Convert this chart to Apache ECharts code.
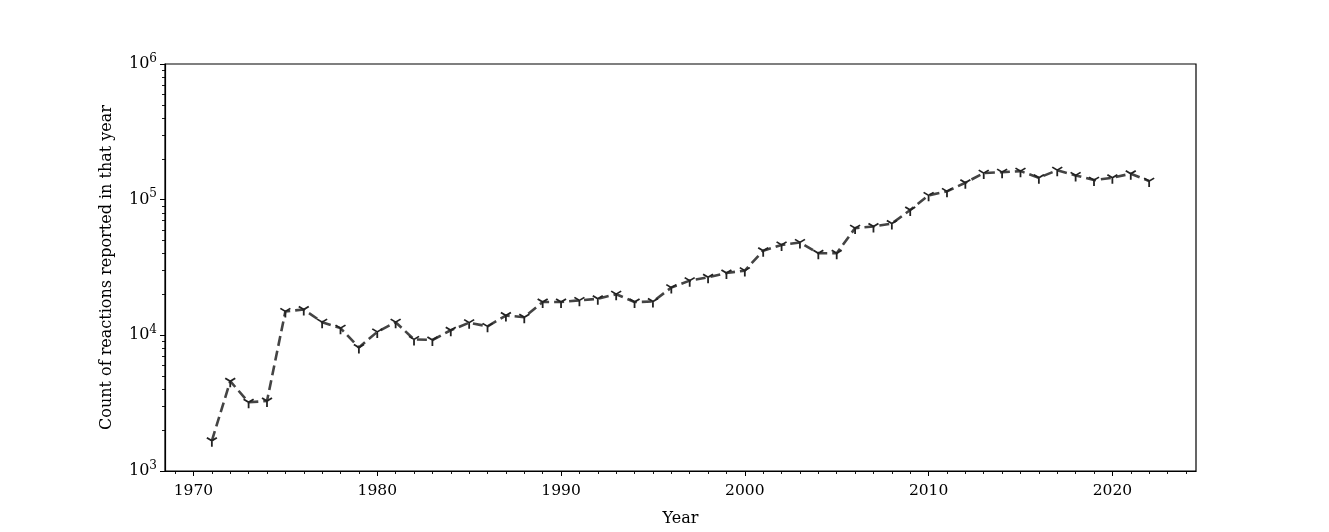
<!DOCTYPE html>
<html>
<head>
<meta charset="utf-8">
<script src="https://cdn.jsdelivr.net/npm/echarts@6/dist/echarts.min.js"></script>
<style>html,body{margin:0;padding:0;background:#fff;}#c{width:1329px;height:532px;}</style>
</head>
<body>
<div id="c"></div>
<script>
const years = [1971,1972,1973,1974,1975,1976,1977,1978,1979,1980,1981,1982,1983,1984,1985,1986,1987,1988,1989,1990,1991,1992,1993,1994,1995,1996,1997,1998,1999,2000,2001,2002,2003,2004,2005,2006,2007,2008,2009,2010,2011,2012,2013,2014,2015,2016,2017,2018,2019,2020,2021,2022];
const counts = [1670,4590,3210,3280,15000,15500,12500,11300,8130,10600,12500,9330,9240,10900,12400,11650,14000,13600,17600,17600,18100,18600,20100,17600,17750,22500,25300,26800,28800,30000,42000,46400,48400,40300,40300,61700,63400,66700,83900,107600,115200,133300,157000,159500,162300,145100,164900,151000,139400,145100,155300,137100];
const xMajorTicks = [1970,1980,1990,2000,2010,2020];
const xMinorTicks = [1969,1970,1971,1972,1973,1974,1975,1976,1977,1978,1979,1980,1981,1982,1983,1984,1985,1986,1987,1988,1989,1990,1991,1992,1993,1994,1995,1996,1997,1998,1999,2000,2001,2002,2003,2004,2005,2006,2007,2008,2009,2010,2011,2012,2013,2014,2015,2016,2017,2018,2019,2020,2021,2022,2023,2024];
const yMajorTicks = [1000,10000,100000,1000000];
const yMinorTicks = [2000,3000,4000,5000,6000,7000,8000,9000,20000,30000,40000,50000,60000,70000,80000,90000,200000,300000,400000,500000,600000,700000,800000,900000];
const xName = 'Year';
const yName = 'Count of reactions reported in that year';

const FONT = 'DejaVu Serif';
const chart = echarts.init(document.getElementById('c'), null, {renderer:'canvas'});
const xMin = 1968.45, xMax = 2024.55;
chart.setOption({
  animation:false,
  backgroundColor:'#fff',
  grid:{left:165,right:133,top:64,bottom:59,show:true,borderColor:'#000',borderWidth:1.2,backgroundColor:'transparent'},
  xAxis:[{
    type:'value',min:xMin,max:xMax,position:'bottom',
    name:xName,nameLocation:'middle',nameGap:40,
    nameTextStyle:{fontFamily:FONT,fontSize:16,color:'#000'},
    axisLine:{show:true,onZero:false,lineStyle:{color:'#000',width:1.2}},
    axisTick:{show:true,length:5,lineStyle:{color:'#000',width:1},customValues:xMajorTicks},
    axisLabel:{fontFamily:FONT,fontSize:15.5,color:'#000',margin:12,customValues:xMajorTicks,
      formatter:function(v){return String(Math.round(v));}},
    splitLine:{show:false}
  },{
    type:'value',min:xMin,max:xMax,position:'bottom',gridIndex:0,
    axisLine:{show:false},
    axisTick:{show:true,length:3,lineStyle:{color:'#000',width:0.9},customValues:xMinorTicks},
    axisLabel:{show:false},splitLine:{show:false}
  }],
  yAxis:[{
    type:'log',logBase:10,min:1000,max:1000000,position:'left',
    name:yName,nameLocation:'middle',nameGap:50,
    nameTextStyle:{fontFamily:FONT,fontSize:16,color:'#000'},
    axisLine:{show:true,lineStyle:{color:'#000',width:1.2}},
    axisTick:{show:true,length:5,lineStyle:{color:'#000',width:1},customValues:yMajorTicks},
    axisLabel:{fontFamily:FONT,color:'#000',margin:8,customValues:yMajorTicks,
      formatter:function(v){return '{b|10}{s|'+Math.round(Math.log10(v))+'}';},
      rich:{b:{fontFamily:FONT,fontSize:16,color:'#000'},s:{fontFamily:FONT,fontSize:12,color:'#000',padding:[0,0,11,0]}}
    },
    splitLine:{show:false}
  },{
    type:'log',logBase:10,min:1000,max:1000000,position:'left',
    axisLine:{show:false},
    axisTick:{show:true,length:3,lineStyle:{color:'#000',width:0.9},customValues:yMinorTicks},
    axisLabel:{show:false},splitLine:{show:false}
  }],
  series:[{
    type:'line',xAxisIndex:0,yAxisIndex:0,
    data:years.map((y,i)=>[y,counts[i]]),
    lineStyle:{color:'#444',width:2.6,type:[10,5]},
    symbol:'path://M0,0 L0,1 M0,0 L-0.866,-0.5 M0,0 L0.866,-0.5',
    symbolSize:[10,9],symbolOffset:[0,1.5],showSymbol:true,symbolKeepAspect:false,
    itemStyle:{color:'#222',borderColor:'#222',borderWidth:1.7},
    z:3
  }]
});
</script>
</body>
</html>
